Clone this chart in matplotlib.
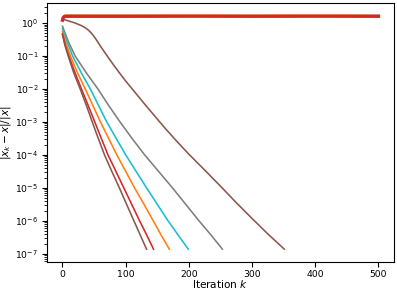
import matplotlib
matplotlib.use("Agg")
import matplotlib.pyplot as plt
import numpy as np

# Divergent runs (stay near ~1.6)
div_k = [0, 1, 3, 6, 100, 200, 300, 400, 500]
div_orange = [1.25, 1.5, 1.66, 1.68, 1.67, 1.68, 1.67, 1.68, 1.67]
div_red = [1.22, 1.45, 1.58, 1.6, 1.6, 1.61, 1.6, 1.61, 1.6]

# Convergent runs: iteration knots and log10 relative error
brown_fast_k = [0, 4, 9, 18, 28, 37, 46, 56, 66.5, 78, 90, 101, 113, 123, 133]
brown_fast_log = [-0.36, -0.68, -1.0, -1.52, -2.0, -2.46, -2.94, -3.47, -4.0, -4.5,
                  -5.0, -5.48, -6.0, -6.43, -6.86]

red_k = [0, 4, 10, 20, 30, 40, 50, 61, 72, 84, 97, 109, 122, 133, 144]
red_log = [-0.33, -0.65, -1.0, -1.52, -2.0, -2.47, -2.95, -3.48, -4.0, -4.48,
           -5.0, -5.48, -6.0, -6.42, -6.86]

orange_k = [0, 5, 12.5, 24, 36, 48, 60, 73, 86, 100, 114, 129, 143.6, 156, 169]
orange_log = [-0.25, -0.58, -1.0, -1.52, -2.0, -2.5, -3.0, -3.5, -4.0, -4.5,
              -5.0, -5.5, -6.0, -6.43, -6.86]

cyan_k = [0, 7, 16, 30, 44, 57, 70, 85, 100, 116.5, 133, 150, 167, 183, 199]
cyan_log = [-0.17, -0.55, -1.0, -1.52, -2.0, -2.5, -3.0, -3.5, -4.0, -4.5,
            -5.0, -5.5, -6.0, -6.43, -6.86]

gray_k = [0, 9, 20, 38, 56, 73, 91, 110, 130, 152, 174, 195, 216, 235, 253]
gray_log = [-0.1, -0.55, -1.0, -1.52, -2.0, -2.5, -3.0, -3.5, -4.0, -4.5,
            -5.0, -5.5, -6.0, -6.43, -6.86]

brown_slow_k = [0, 10, 20, 30, 35, 40, 45, 50, 55, 60, 70, 80, 90, 100, 115, 130, 145, 160,
                180, 200, 225, 250, 275, 300, 325, 351]
brown_slow_log = [0.12, 0.06, 0.0, -0.08, -0.13, -0.2, -0.29, -0.41, -0.55, -0.7,
                  -0.98, -1.25, -1.51, -1.76, -2.11, -2.46, -2.8, -3.14, -3.57,
                  -3.98, -4.46, -4.95, -5.45, -5.93, -6.4, -6.86]

C_BROWN = "#8c564b"
C_RED = "#d62728"
C_ORANGE = "#ff7f0e"
C_CYAN = "#17becf"
C_GRAY = "#7f7f7f"

fig = plt.figure(figsize=(3.97, 2.91), dpi=100)
ax = fig.add_axes([0.1176, 0.1007, 0.9932 - 0.1176, 0.9887 - 0.1007])

lw = 1.15
ax.plot(brown_slow_k, 10 ** np.array(brown_slow_log), color=C_BROWN, lw=lw)
ax.plot(gray_k, 10 ** np.array(gray_log), color=C_GRAY, lw=lw)
ax.plot(cyan_k, 10 ** np.array(cyan_log), color=C_CYAN, lw=lw)
ax.plot(orange_k, 10 ** np.array(orange_log), color=C_ORANGE, lw=lw)
ax.plot(red_k, 10 ** np.array(red_log), color=C_RED, lw=lw)
ax.plot(brown_fast_k, 10 ** np.array(brown_fast_log), color=C_BROWN, lw=lw)
ax.plot(div_k, div_orange, color=C_ORANGE, lw=1.6)
ax.plot(div_k, div_red, color=C_RED, lw=2.4)

ax.set_yscale("log")
ax.set_xlim(-25, 525)
ax.set_ylim(10 ** -7.24, 10 ** 0.598)
ax.set_xticks([0, 100, 200, 300, 400, 500])
ax.tick_params(labelsize=6.7, pad=2.5)
ax.set_xlabel("Iteration $k$", fontsize=7.6, labelpad=-0.5)
ax.set_ylabel(r"$|x_k - \bar{x}|/|\bar{x}|$", fontsize=7.6, labelpad=1)

fig.savefig("out.png", dpi=100)
